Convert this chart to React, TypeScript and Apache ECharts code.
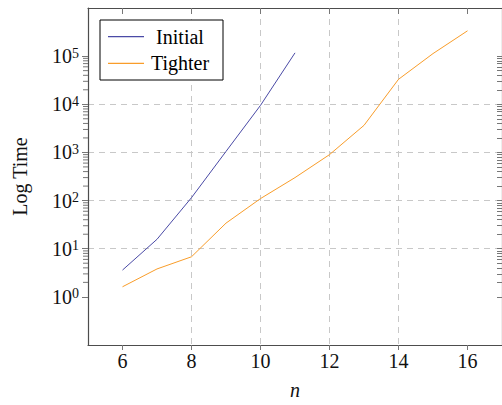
import React, { useEffect, useRef } from 'react';
import * as echarts from 'echarts';

// ---- data ----
const initialN = [6, 7, 8, 9, 10, 11];
const initialTimes = [3.6, 15.7, 115, 1050, 9500, 117000];
const tighterN = [6, 7, 8, 9, 10, 11, 12, 13, 14, 15, 16];
const tighterTimes = [1.62, 3.8, 6.8, 34, 110, 300, 900, 3650, 33000, 113000, 336000];
const xTickValues = [6, 8, 10, 12, 14, 16];
const yMajorTicks = [1, 10, 100, 1000, 10000, 100000];
const yMinorMultipliers = [2, 3, 4, 5, 6, 7, 8, 9];
const yMinorDecades = [1, 10, 100, 1000, 10000];

const X_MIN = 5;
const X_MAX = 17;
const Y_MIN = 0.1;
const Y_MAX = 1e6;
const FONT = 'Liberation Serif';
const FS = 20;

const yMinorTicks: number[] = [];
yMinorDecades.forEach((d) => yMinorMultipliers.forEach((m) => yMinorTicks.push(m * d)));

export default function App() {
  const ref = useRef<HTMLDivElement>(null);
  useEffect(() => {
    const chart = echarts.init(ref.current!, null, { renderer: 'svg' });
    const axisLineStyle = { color: '#4d4d4d', width: 1.2 };
    const tickStyle = { color: '#777', width: 1 };
    const gridStyle = { color: '#c8c8c8', width: 1, type: [6, 5] as any };
    chart.setOption({
      animation: false,
      backgroundColor: '#fff',
      textStyle: { fontFamily: FONT },
      grid: { left: 88, right: -1, top: 8, bottom: 52, containLabel: false },
      legend: {
        data: ['Initial', 'Tighter'],
        left: 100,
        top: 20,
        orient: 'vertical',
        icon: 'rect',
        itemWidth: 36,
        itemHeight: 1.3,
        itemGap: 6.6,
        padding: [6.7, 12, 6.7, 8],
        borderColor: '#000',
        borderWidth: 1,
        borderRadius: 0,
        backgroundColor: '#fff',
        formatter: '{c|{name}}',
        textStyle: {
          fontFamily: FONT,
          fontSize: FS,
          color: '#000',
          rich: { c: { width: 62, align: 'center', fontFamily: FONT, fontSize: FS, lineHeight: 20, color: '#000' } },
        },
      },
      xAxis: [
        {
          type: 'value',
          min: X_MIN,
          max: X_MAX,
          splitNumber: 6,
          position: 'bottom',
          axisLine: { show: true, lineStyle: axisLineStyle },
          axisTick: { show: true, inside: false, length: 5, customValues: xTickValues, lineStyle: tickStyle },
          axisLabel: { customValues: xTickValues, margin: 6, fontFamily: FONT, fontSize: FS, color: '#111' },
          splitLine: { show: true, lineStyle: gridStyle, showMinLine: false, showMaxLine: false },
          name: 'n',
          nameLocation: 'middle',
          nameGap: 35,
          nameTextStyle: { fontFamily: FONT, fontStyle: 'italic', fontSize: FS, color: '#111' },
        },
        {
          type: 'value',
          min: X_MIN,
          max: X_MAX,
          splitNumber: 6,
          position: 'top',
          axisLine: { show: true, lineStyle: axisLineStyle },
          axisTick: { show: true, inside: true, length: 6, customValues: xTickValues, lineStyle: tickStyle },
          axisLabel: { show: false },
          splitLine: { show: false },
        },
      ],
      yAxis: [
        {
          type: 'log',
          logBase: 10,
          min: Y_MIN,
          max: Y_MAX,
          position: 'left',
          axisLine: { show: true, lineStyle: axisLineStyle },
          axisTick: { show: true, inside: false, length: 6, customValues: yMajorTicks, lineStyle: tickStyle },
          axisLabel: {
            customValues: yMajorTicks,
            margin: 9,
            formatter: (v: number) => `{b|10}{s|${Math.round(Math.log10(v))}}`,
            rich: {
              b: { fontFamily: FONT, fontSize: FS, color: '#111', lineHeight: 20 },
              s: { fontFamily: FONT, fontSize: 14, color: '#111', verticalAlign: 'top', lineHeight: 12 },
            },
          },
          splitLine: { show: true, lineStyle: gridStyle, showMinLine: false, showMaxLine: false },
          name: 'Log Time',
          nameLocation: 'middle',
          nameGap: 58,
          nameRotate: 90,
          nameTextStyle: { fontFamily: FONT, fontSize: FS, color: '#111' },
        },
        {
          type: 'log',
          logBase: 10,
          min: Y_MIN,
          max: Y_MAX,
          position: 'right',
          axisLine: { show: true, lineStyle: axisLineStyle },
          axisTick: { show: true, inside: true, length: 5, customValues: yMajorTicks.concat(yMinorTicks), lineStyle: tickStyle },
          axisLabel: { show: false },
          splitLine: { show: false },
        },
      ],
      series: [
        {
          name: 'Initial',
          type: 'line',
          symbol: 'none',
          data: initialN.map((n, i) => [n, initialTimes[i]]),
          lineStyle: { width: 1, color: '#4a4aa6' },
          itemStyle: { color: '#4a4aa6' },
          z: 3,
        },
        {
          name: 'Tighter',
          type: 'line',
          symbol: 'none',
          data: tighterN.map((n, i) => [n, tighterTimes[i]]),
          lineStyle: { width: 1, color: '#f99d2a' },
          itemStyle: { color: '#f99d2a' },
          z: 3,
        },
        {
          name: 'minorTicksLeft',
          type: 'custom',
          clip: false,
          silent: true,
          data: yMinorTicks.map((v) => [X_MIN, v]),
          renderItem: (params: any, api: any) => {
            const p = api.coord([api.value(0), api.value(1)]);
            return {
              type: 'line',
              shape: { x1: p[0] - 5, y1: p[1], x2: p[0], y2: p[1] },
              style: { stroke: '#777', lineWidth: 1 },
            };
          },
        },
      ],
    });
    return () => chart.dispose();
  }, []);
  return <div ref={ref} style={{ position: 'absolute', left: 0, top: 0, width: 502, height: 405 }} />;
}
